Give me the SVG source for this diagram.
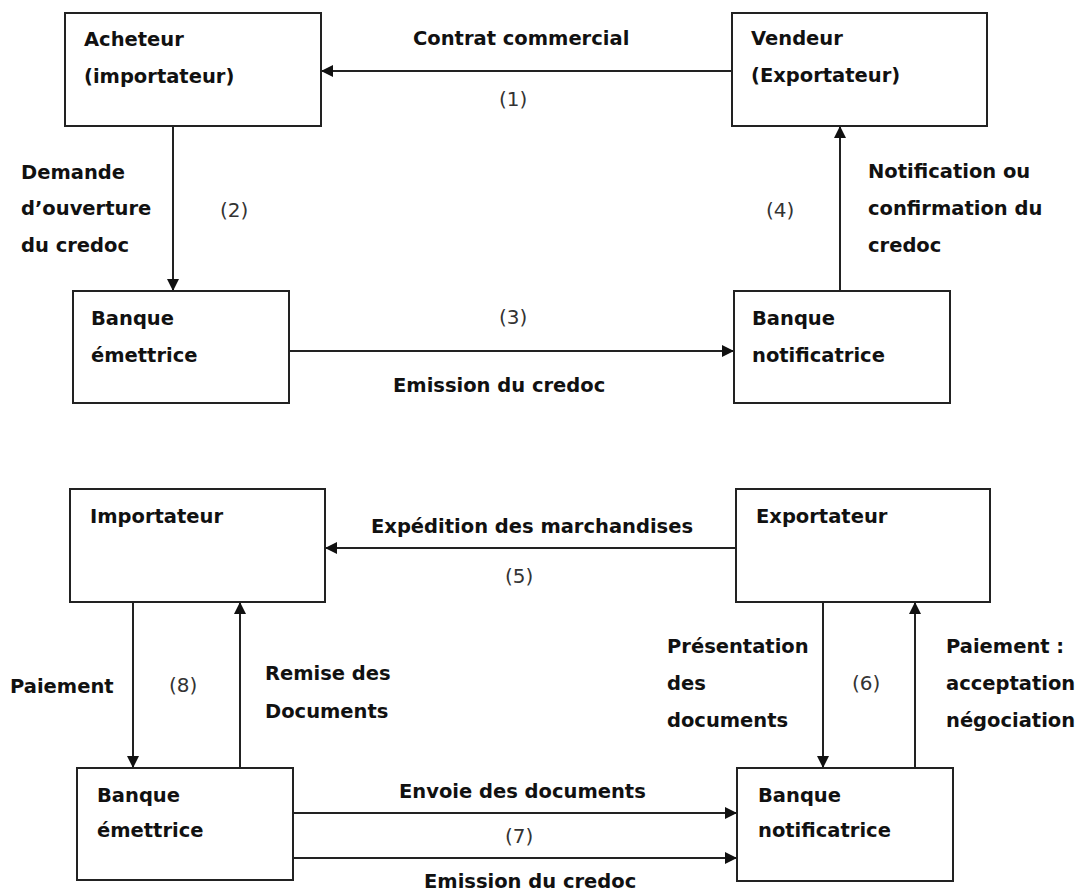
<svg xmlns="http://www.w3.org/2000/svg" width="1081" height="892" viewBox="0 0 1081 892">
  <style>
    .box { fill: #ffffff; stroke: #222222; stroke-width: 2; }
    .edge { fill: none; stroke: #222222; stroke-width: 2; }
    .t { font-family: "DejaVu Sans", "Liberation Sans", sans-serif; font-weight: bold; font-size: 19.5px; fill: #111111; }
    .n { font-family: "DejaVu Sans", "Liberation Sans", sans-serif; font-weight: normal; font-size: 20px; fill: #333333; }
  </style>
  <defs>
    <marker id="ah" markerWidth="13" markerHeight="12" refX="12" refY="6" orient="auto" markerUnits="userSpaceOnUse">
      <path d="M0,0 L12,6 L0,12 z" fill="#111111"/>
    </marker>
  </defs>
  <rect x="0" y="0" width="1081" height="892" fill="#ffffff"/>

  <g id="connectors">
    <line id="e1" class="edge" x1="732" y1="71" x2="321" y2="71" marker-end="url(#ah)"/>
    <line id="e2" class="edge" x1="173" y1="126" x2="173" y2="291" marker-end="url(#ah)"/>
    <line id="e3" class="edge" x1="289" y1="351" x2="734" y2="351" marker-end="url(#ah)"/>
    <line id="e4" class="edge" x1="840" y1="291" x2="840" y2="126" marker-end="url(#ah)"/>
    <line id="e5" class="edge" x1="736" y1="548" x2="325" y2="548" marker-end="url(#ah)"/>
    <line id="e8a" class="edge" x1="133" y1="602" x2="133" y2="768" marker-end="url(#ah)"/>
    <line id="e8b" class="edge" x1="240" y1="768" x2="240" y2="602" marker-end="url(#ah)"/>
    <line id="e6a" class="edge" x1="823" y1="602" x2="823" y2="768" marker-end="url(#ah)"/>
    <line id="e6b" class="edge" x1="915" y1="768" x2="915" y2="602" marker-end="url(#ah)"/>
    <line id="e7a" class="edge" x1="293" y1="813" x2="737" y2="813" marker-end="url(#ah)"/>
    <line id="e7b" class="edge" x1="293" y1="858" x2="737" y2="858" marker-end="url(#ah)"/>
  </g>

  <g id="labels">
    <text class="t" x="413" y="45">Contrat commercial</text>
    <text class="n" x="499" y="106">(1)</text>
    <text class="t" x="21" y="179">Demande</text>
    <text class="t" x="21" y="215">d’ouverture</text>
    <text class="t" x="21" y="252">du credoc</text>
    <text class="n" x="220" y="217">(2)</text>
    <text class="n" x="499" y="324">(3)</text>
    <text class="t" x="393" y="392">Emission du credoc</text>
    <text class="n" x="766" y="217">(4)</text>
    <text class="t" x="868" y="178">Notification ou</text>
    <text class="t" x="868" y="215">confirmation du</text>
    <text class="t" x="868" y="252">credoc</text>

    <text class="t" x="371" y="533">Expédition des marchandises</text>
    <text class="n" x="505" y="583">(5)</text>
    <text class="t" x="10" y="693">Paiement</text>
    <text class="n" x="169" y="692">(8)</text>
    <text class="t" x="265" y="680">Remise des</text>
    <text class="t" x="265" y="718">Documents</text>
    <text class="t" x="667" y="653">Présentation</text>
    <text class="t" x="667" y="690">des</text>
    <text class="t" x="667" y="727">documents</text>
    <text class="n" x="852" y="690">(6)</text>
    <text class="t" x="946" y="653">Paiement :</text>
    <text class="t" x="946" y="690">acceptation</text>
    <text class="t" x="946" y="727">négociation</text>
    <text class="t" x="399" y="798">Envoie des documents</text>
    <text class="n" x="505" y="843">(7)</text>
    <text class="t" x="424" y="888">Emission du credoc</text>
  </g>

  <g id="n1">
    <rect class="box" x="65" y="13" width="256" height="113"/>
    <text class="t" x="84" y="46">Acheteur</text>
    <text class="t" x="84" y="83">(importateur)</text>
  </g>
  <g id="n2">
    <rect class="box" x="732" y="13" width="255" height="113"/>
    <text class="t" x="751" y="45">Vendeur</text>
    <text class="t" x="751" y="82">(Exportateur)</text>
  </g>
  <g id="n3">
    <rect class="box" x="73" y="291" width="216" height="112"/>
    <text class="t" x="91" y="325">Banque</text>
    <text class="t" x="91" y="362">émettrice</text>
  </g>
  <g id="n4">
    <rect class="box" x="734" y="291" width="216" height="112"/>
    <text class="t" x="752" y="325">Banque</text>
    <text class="t" x="752" y="362">notificatrice</text>
  </g>
  <g id="n5">
    <rect class="box" x="70" y="489" width="255" height="113"/>
    <text class="t" x="90" y="523">Importateur</text>
  </g>
  <g id="n6">
    <rect class="box" x="736" y="489" width="254" height="113"/>
    <text class="t" x="756" y="523">Exportateur</text>
  </g>
  <g id="n7">
    <rect class="box" x="77" y="768" width="216" height="112"/>
    <text class="t" x="97" y="802">Banque</text>
    <text class="t" x="97" y="837">émettrice</text>
  </g>
  <g id="n8">
    <rect class="box" x="737" y="768" width="216" height="113"/>
    <text class="t" x="758" y="802">Banque</text>
    <text class="t" x="758" y="837">notificatrice</text>
  </g>
</svg>
